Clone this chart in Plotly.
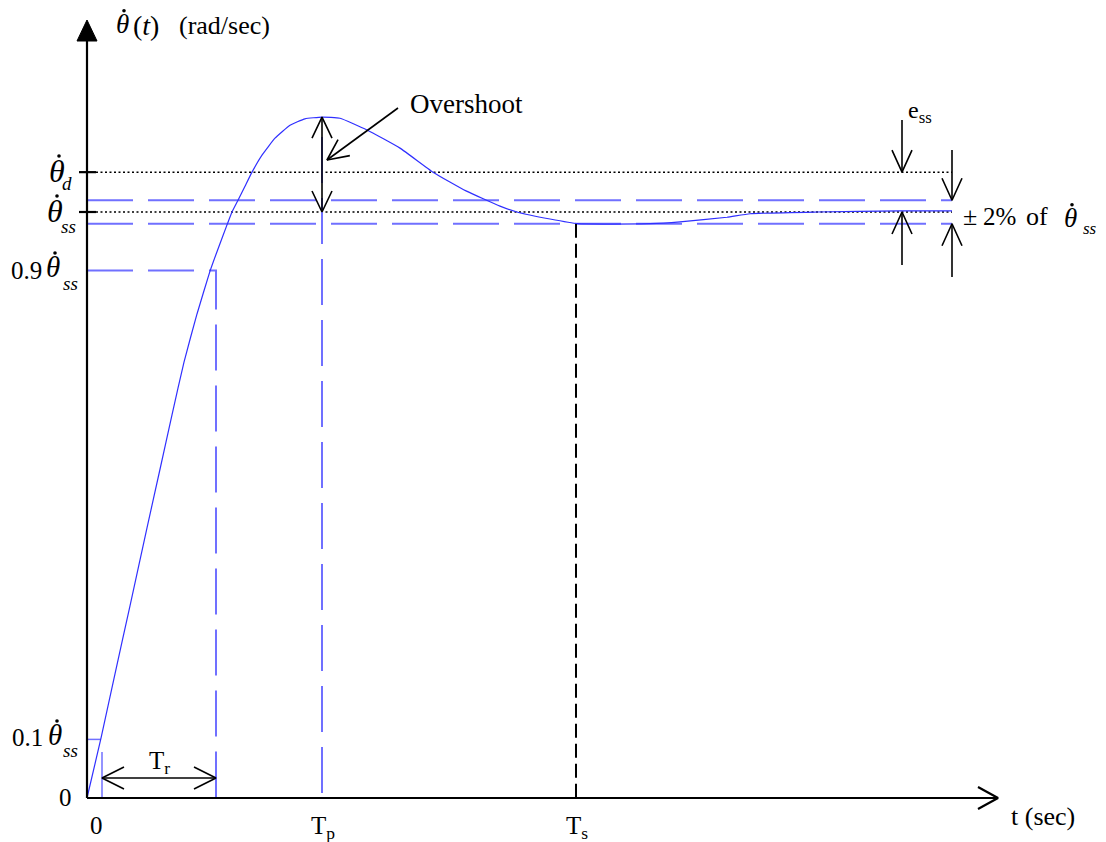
import math
import plotly.graph_objects as go

# ---------------- data (t in "sec" units, y as fraction of steady state) ----------------
t_curve = [0.00, 0.14, 0.28, 0.43, 0.60, 0.73, 0.85, 0.97, 1.10, 1.23, 1.31, 1.40, 1.45,
           1.51, 1.58, 1.65, 1.75, 1.88, 2.03, 2.18, 2.35, 2.53, 2.80, 3.13, 3.46, 3.79,
           4.13, 4.30, 4.63, 4.91, 5.63, 5.93, 6.40, 6.63, 7.30, 8.13, 8.65]
y_curve = [0.000, 0.102, 0.212, 0.328, 0.461, 0.561, 0.654, 0.744, 0.826, 0.899, 0.937,
           0.978, 1.000, 1.020, 1.044, 1.068, 1.097, 1.126, 1.148, 1.159, 1.162, 1.160,
           1.140, 1.109, 1.068, 1.036, 1.010, 1.000, 0.988, 0.980, 0.980, 0.983, 0.991,
           0.997, 1.000, 1.002, 1.002]

T_R_START = 0.15
T_R_END = 1.29
T_P = 2.35
T_S = 4.89
T_END = 8.65
T_AXIS_END = 9.11
Y_SS = 1.0
Y_D = 1.068
Y_PEAK = 1.162
BAND = 0.02
Y_90 = 0.9
Y_10 = 0.1

# ---------------- layout helpers ----------------
W, H = 1106, 842
PAGE_OFF = 8.0            # default body margin of the html page
OX, OY = 87.0, 798.0      # page pixel position of the origin
KX, KY = 100.0, 586.0     # pixels per unit

def d2px(x, y):
    return OX + x * KX, OY - y * KY

def px2d(px, py):
    return (px - OX) / KX, (OY - py) / KY

X_RANGE = [px2d(PAGE_OFF, 0)[0], px2d(PAGE_OFF + W, 0)[0]]
Y_RANGE = [px2d(0, PAGE_OFF + H)[1], px2d(0, PAGE_OFF)[1]]

FONT = "Liberation Serif, Times New Roman, serif"
BLACK = "black"
CURVE = "#3030ff"
DASHBLUE = "#7070ff"

fig = go.Figure()

def add_line(xs, ys, color, width, dash=None):
    fig.add_trace(go.Scatter(x=xs, y=ys, mode="lines",
                             line=dict(color=color, width=width, dash=dash),
                             hoverinfo="skip", showlegend=False))

def arrow_path(x0, y0, x1, y1, heads=("end",), L=22, HW=10):
    xs, ys = [x0, x1, None], [y0, y1, None]
    p0, p1 = d2px(x0, y0), d2px(x1, y1)
    for which in heads:
        tip, tail = (p1, p0) if which == "end" else (p0, p1)
        ux, uy = tip[0] - tail[0], tip[1] - tail[1]
        n = math.hypot(ux, uy)
        ux, uy = ux / n, uy / n
        bx, by = tip[0] - L * ux, tip[1] - L * uy
        a1 = px2d(bx - HW * uy, by + HW * ux)
        a2 = px2d(bx + HW * uy, by - HW * ux)
        td = px2d(*tip)
        xs += [a1[0], td[0], a2[0], None]
        ys += [a1[1], td[1], a2[1], None]
    return xs, ys

# ---------------- reference lines ----------------
for yb in (Y_SS + BAND, Y_SS - BAND):
    add_line([0, T_END], [yb, yb], DASHBLUE, 2, "46px,15px")
for yl in (Y_D, Y_SS):
    add_line([0.09, T_END], [yl, yl], BLACK, 1.5, "2px,2.5px")
add_line([0, T_R_END, T_R_END], [Y_90, Y_90, 0], DASHBLUE, 2, "46px,15px")
add_line([T_P, T_P], [px2d(0, 137)[1], 0], DASHBLUE, 2, "46px,15px")
add_line([0, T_R_START - 0.01], [Y_10, Y_10], DASHBLUE, 1.5)
add_line([T_R_START, T_R_START], [px2d(0, 752)[1], 0], DASHBLUE, 1.5)
add_line([T_S, T_S], [Y_SS - BAND, 0], BLACK, 2, "14px,6px")

# ---------------- response curve ----------------
fig.add_trace(go.Scatter(x=t_curve, y=y_curve, mode="lines",
                         line=dict(color=CURVE, width=1.2, shape="spline", smoothing=0.4),
                         hoverinfo="skip", showlegend=False))

# ---------------- axes ----------------
ax_x, ax_y = [], []
xs, ys = arrow_path(0, 0, T_AXIS_END, 0, L=20, HW=11)
ax_x += xs; ax_y += ys
ax_x += [0, 0, None]; ax_y += [0, px2d(0, 40)[1], None]
for yl in (Y_D, Y_SS):
    ax_x += [px2d(79, 0)[0], px2d(96, 0)[0], None]; ax_y += [yl, yl, None]
add_line(ax_x, ax_y, BLACK, 2.2)
tri = [px2d(87, 20), px2d(77, 41), px2d(97, 41), px2d(87, 20)]
fig.add_trace(go.Scatter(x=[p[0] for p in tri], y=[p[1] for p in tri], mode="lines",
                         fill="toself", fillcolor=BLACK, line=dict(color=BLACK, width=1),
                         hoverinfo="skip", showlegend=False))

# ---------------- annotation arrows ----------------
ar_x, ar_y = [], []
def add_arrow(*args, **kw):
    xs, ys = arrow_path(*args, **kw)
    ar_x.extend(xs); ar_y.extend(ys)

yTr = px2d(0, 778)[1]
add_arrow(T_R_START, yTr, T_R_END, yTr, heads=("start", "end"), L=22, HW=11)
add_arrow(T_P, Y_PEAK, T_P, Y_SS, heads=("start", "end"), L=21, HW=10)
p_from = px2d(398, 108); p_to = px2d(327, 160)
add_arrow(p_from[0], p_from[1], p_to[0], p_to[1], L=21, HW=10)
x_ess = px2d(902, 0)[0]
add_arrow(x_ess, px2d(0, 120)[1], x_ess, Y_D)
add_arrow(x_ess, px2d(0, 265)[1], x_ess, Y_SS)
x_band = px2d(952, 0)[0]
add_arrow(x_band, px2d(0, 150)[1], x_band, Y_SS + BAND)
add_arrow(x_band, px2d(0, 277)[1], x_band, Y_SS - BAND)
add_line(ar_x, ar_y, BLACK, 1.6)

# ---------------- text ----------------
def txt(px, py, s, size=24, xanchor="center", yanchor="middle"):
    x, y = px2d(px, py)
    fig.add_annotation(x=x, y=y, text=s, showarrow=False, xanchor=xanchor, yanchor=yanchor,
                       font=dict(family=FONT, size=size, color=BLACK))

dots = []
def theta(px, py, size=32, sub=None, sub_dx=4, sub_dy=12, sub_size=19):
    """italic theta centred at (px, py) with a dot above it and an optional subscript"""
    txt(px, py - 1, "<i>\u03b8</i>", size=size)
    dots.append(px2d(px + 2, py - (0.345 * size + 5)))
    if sub:
        txt(px + sub_dx, py + sub_dy, "<i>%s</i>" % sub, size=sub_size, xanchor="left")

# y-axis labels
theta(57, 172, sub="d", sub_dx=3, sub_dy=11)
theta(55, 212, sub="ss", sub_dx=4, sub_dy=14)
txt(44, 270, "0.9", size=25, xanchor="right")
theta(53, 268, size=29, sub="ss", sub_dx=8, sub_dy=15)
txt(45, 737, "0.1", size=25, xanchor="right")
theta(55, 736, size=29, sub="ss", sub_dx=6, sub_dy=14)
txt(74, 797, "0", size=25, xanchor="right")

# x-axis labels
txt(96, 825, "0", size=25)
txt(323, 827, "T<sub>p</sub>", size=25)
txt(577, 827, "T<sub>s</sub>", size=25)
txt(1009, 816, "t (sec)", size=26, xanchor="left")
txt(159, 762, "T<sub>r</sub>", size=25)

# title of the y axis
theta(122, 25, size=27)
txt(131, 25, "(<i>t</i>)", size=28, xanchor="left")
txt(177, 25, "(rad/sec)", size=26, xanchor="left")

# other texts
txt(466, 104, "Overshoot", size=27)
txt(906, 112, "e<sub>ss</sub>", size=24, xanchor="left")
txt(970, 216, "\u00b1", size=26)
txt(999, 216, "2%", size=25)
txt(1037, 216, "of", size=26)
theta(1070, 219, size=27, sub="ss", sub_dx=11, sub_dy=9, sub_size=17)

fig.add_trace(go.Scatter(x=[d[0] for d in dots], y=[d[1] for d in dots], mode="markers",
                         marker=dict(color=BLACK, size=3.6, line=dict(width=0)),
                         hoverinfo="skip", showlegend=False))

fig.update_layout(
    width=W, height=H,
    margin=dict(l=0, r=0, t=0, b=0, pad=0),
    paper_bgcolor="white", plot_bgcolor="white",
    xaxis=dict(range=X_RANGE, visible=False, fixedrange=True),
    yaxis=dict(range=Y_RANGE, visible=False, fixedrange=True),
    showlegend=False, hovermode=False,
)

fig.write_html("out.html", config={"displayModeBar": False})
